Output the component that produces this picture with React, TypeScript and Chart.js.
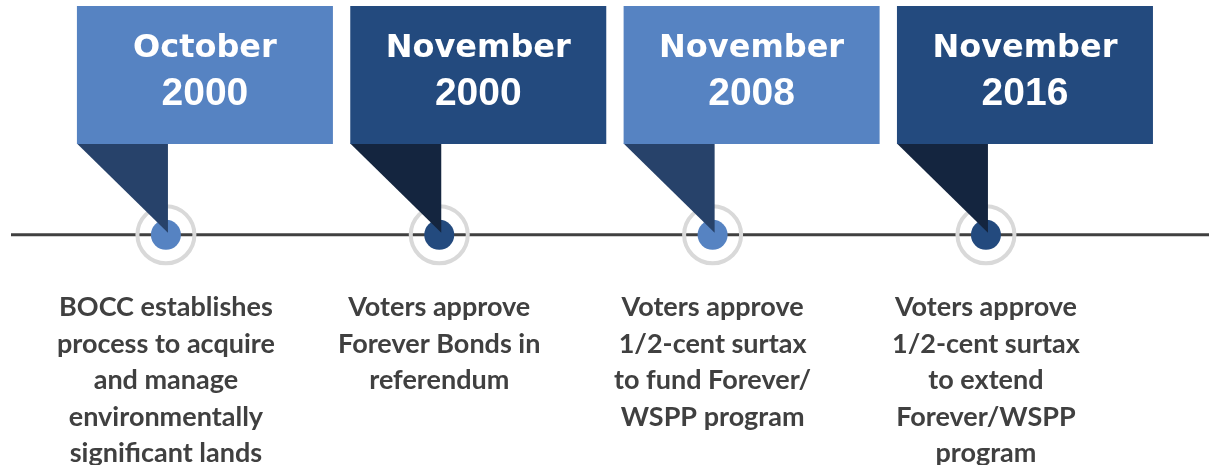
import React, { useEffect, useRef } from "react";
import { Chart, registerables } from "chart.js";

Chart.register(...registerables);

// ---- data ----
const months = ["October", "November", "November", "November"];
const years = ["2000", "2000", "2008", "2016"];
const descriptions: string[][] = [
  ["BOCC establishes", "process to acquire", "and manage", "environmentally", "significant lands"],
  ["Voters approve", "Forever Bonds in", "referendum"],
  ["Voters approve", "1/2-cent surtax", "to fund Forever/", "WSPP program"],
  ["Voters approve", "1/2-cent surtax", "to extend", "Forever/WSPP", "program"],
];
const eventIndex = [0, 1, 2, 3];
const boxColors = ["#5683C2", "#234A7E", "#5683C2", "#234A7E"];
const tailColors = ["#27426A", "#14253F", "#27426A", "#14253F"];

const timelinePlugin = {
  id: "timeline",
  beforeDatasetsDraw(chart: any) {
    const { ctx, scales } = chart;
    const y = scales.y.getPixelForValue(0);
    ctx.save();
    ctx.strokeStyle = "#404040";
    ctx.lineWidth = 3;
    ctx.beginPath();
    ctx.moveTo(11, y);
    ctx.lineTo(chart.width, y);
    ctx.stroke();
    ctx.restore();
  },
  afterDatasetsDraw(chart: any) {
    const { ctx, scales } = chart;
    const yLine = scales.y.getPixelForValue(0);
    ctx.save();
    eventIndex.forEach((v, i) => {
      const cx = scales.x.getPixelForValue(v);
      const left = cx - 89;
      const right = cx + 167;
      const top = 6;
      const bottom = 144;
      // tail
      ctx.fillStyle = tailColors[i];
      ctx.beginPath();
      ctx.moveTo(left, bottom - 0.5);
      ctx.lineTo(cx + 2, bottom - 0.5);
      ctx.lineTo(cx + 2, yLine - 2);
      ctx.closePath();
      ctx.fill();
      // box
      ctx.fillStyle = boxColors[i];
      ctx.fillRect(left, top, right - left, bottom - top);
      // texts
      const bx = (left + right) / 2;
      ctx.fillStyle = "#ffffff";
      ctx.textAlign = "center";
      ctx.textBaseline = "alphabetic";
      ctx.font = "bold 32px 'DejaVu Sans'";
      ctx.fillText(months[i], bx, 57);
      ctx.font = "bold 39px 'Liberation Sans', Arial";
      ctx.fillText(years[i], bx, 105);
      // description
      ctx.fillStyle = "#404040";
      ctx.font = "bold 27px Lato";
      descriptions[i].forEach((line, k) => {
        ctx.fillText(line, cx, 316 + k * 36.5);
      });
    });
    ctx.restore();
  },
};

export default function App() {
  const ref = useRef<HTMLCanvasElement | null>(null);
  useEffect(() => {
    document.body.style.margin = "0";
    const canvas = ref.current!;
    const chart = new Chart(canvas, {
      type: "scatter",
      data: {
        datasets: [
          {
            label: "dots",
            data: eventIndex.map((v) => ({ x: v, y: 0 })),
            pointRadius: 15,
            pointHoverRadius: 15,
            backgroundColor: boxColors,
            borderWidth: 0,
            order: 1,
          },
          {
            label: "rings",
            data: eventIndex.map((v) => ({ x: v, y: 0 })),
            pointRadius: 28.5,
            pointHoverRadius: 28.5,
            backgroundColor: "rgba(0,0,0,0)",
            borderColor: "#D9D9D9",
            borderWidth: 4,
            order: 2,
          },
        ],
      },
      options: {
        responsive: false,
        animation: false,
        devicePixelRatio: 1,
        layout: { padding: 0, autoPadding: false },
        plugins: { legend: { display: false }, tooltip: { enabled: false } },
        scales: {
          x: { type: "linear", min: -0.607, max: 3.816, display: false },
          y: { type: "linear", min: -0.98, max: 1, display: false },
        },
      },
      plugins: [timelinePlugin],
    });
    return () => chart.destroy();
  }, []);
  return (
    <div style={{ width: 1209, height: 465 }}>
      <canvas ref={ref} width={1209} height={465} />
    </div>
  );
}
